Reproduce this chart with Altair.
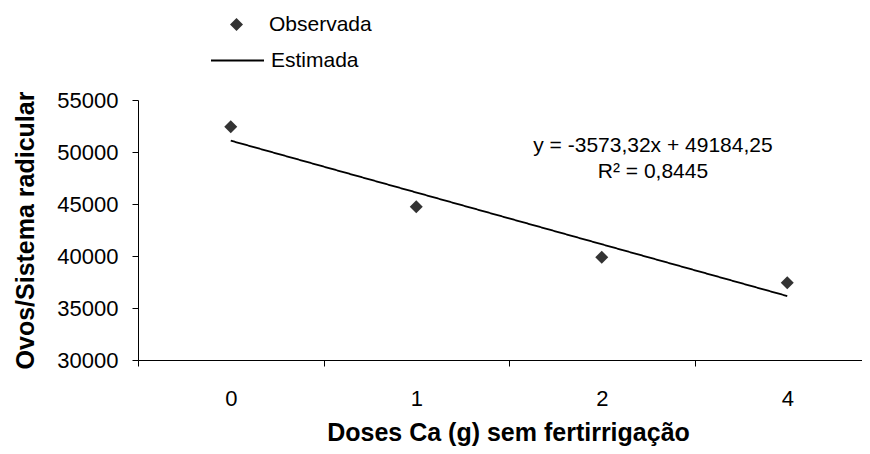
import altair as alt
import pandas as pd

# ---- data ----
doses = ["0", "1", "2", "4"]
observada = [52430, 44740, 39875, 37436]
estimada_dose_idx = [0, 3]           # first and last dose of the fitted line
estimada = [51090, 36150]
equacao = ["y = -3573,32x + 49184,25", "R² = 0,8445"]
y_ticks = [30000, 35000, 40000, 45000, 50000, 55000]

FONT = "Liberation Sans"
W, H = 724, 260
BAND = 185.5
X_MAX = -0.5 + W / BAND

obs_df = pd.DataFrame({"pos": list(range(len(doses))), "dose": doses,
                       "valor": observada, "serie": "Observada"})
est_df = pd.DataFrame({"pos": estimada_dose_idx, "valor": estimada,
                       "serie": "Estimada"})

label_expr = "[" + ",".join("'%s'" % d for d in doses) + "][datum.value]"

x_enc = alt.X(
    "pos:Q",
    scale=alt.Scale(domain=[-0.5, X_MAX], nice=False, zero=False),
    axis=alt.Axis(
        values=list(range(len(doses))), labelExpr=label_expr,
        tickOffset=-BAND / 2, labelOffset=BAND / 2, labelFlush=False,
        labelPadding=22, labelFontSize=22,
        title="Doses Ca (g) sem fertirrigação",
        titleX=370, titleY=80, titleBaseline="alphabetic", titleAlign="center",
    ),
)
y_enc = alt.Y(
    "valor:Q",
    scale=alt.Scale(domain=[30000, 55000], nice=False, zero=False),
    axis=alt.Axis(
        values=y_ticks, format="d", labelPadding=14, labelFontSize=22,
        title="Ovos/Sistema radicular",
        titleX=-113, titleY=H / 2, titleBaseline="middle", titleAlign="center",
        titleAngle=270,
    ),
)

points = alt.Chart(obs_df).mark_point(
    shape="diamond", filled=True, size=170, color="#333333", opacity=1
).encode(
    x=x_enc, y=y_enc,
    shape=alt.Shape(
        "serie:N",
        scale=alt.Scale(domain=["Observada"], range=["diamond"]),
        legend=alt.Legend(
            title=None, orient="none", legendX=88, legendY=-86, padding=0,
            labelFont=FONT, labelFontSize=21, labelColor="black",
            labelOffset=22, symbolSize=170, symbolFillColor="#333333",
        ),
    ),
)

line = alt.Chart(est_df).mark_line(color="black", strokeWidth=1.8).encode(
    x=alt.X("pos:Q"), y=alt.Y("valor:Q"),
    strokeDash=alt.StrokeDash(
        "serie:N",
        scale=alt.Scale(domain=["Estimada"], range=[[1, 0]]),
        legend=alt.Legend(
            title=None, orient="none", legendX=72, legendY=-67, padding=0,
            labelFont=FONT, labelFontSize=21, labelColor="black",
            labelOffset=6, symbolSize=2809, symbolType="stroke",
            symbolStrokeWidth=1.8, symbolStrokeColor="black",
        ),
    ),
)

eq = alt.Chart(pd.DataFrame({"t": [0]})).mark_text(
    text=equacao, font=FONT, fontSize=21, color="black", align="center",
    baseline="middle", lineHeight=26,
).encode(x=alt.datum(2.276), y=alt.datum(50606))

chart = alt.layer(line, points, eq).properties(
    width=W, height=H,
    autosize=alt.AutoSizeParams(type="none"),
    padding={"left": 130, "top": 92, "right": 0, "bottom": 86},
).configure_view(stroke=None).configure_axis(
    grid=False, domainColor="black", tickColor="black", labelColor="black",
    titleColor="black", labelFont=FONT, titleFont=FONT, titleFontSize=25,
    titleFontWeight="bold", tickSize=6, domainWidth=1, tickWidth=1,
)

chart.save("out.html", embed_options={"renderer": "svg", "actions": False})
